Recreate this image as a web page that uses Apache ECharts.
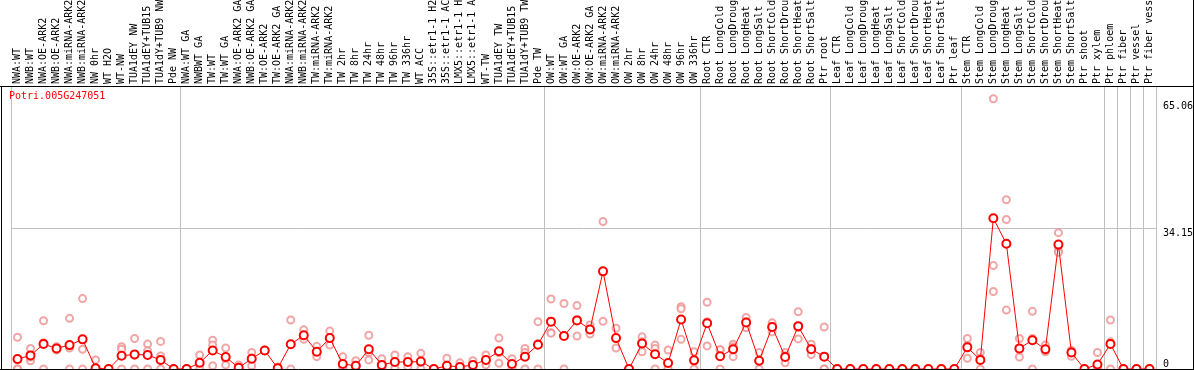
<!DOCTYPE html>
<html><head><meta charset="utf-8">
<script src="https://cdn.jsdelivr.net/npm/echarts@6/dist/echarts.min.js"></script>
<style>html,body{margin:0;padding:0;background:#fff;overflow:hidden}#c{width:1194px;height:370px}</style>
</head><body><div id="c"></div>
<script>
const geneName = 'Potri.005G247051';
const categories = [
 'NWA:WT','NWB:WT','NWA:OE-ARK2','NWB:OE-ARK2','NWA:miRNA-ARK2','NWB:miRNA-ARK2','NW 0hr','WT H2O','WT-NW','TUA1dEY NW','TUA1dEY+TUB15 NW','TUA1dY+TUB9 NW','Pde NW',
 'NWA:WT GA','NWBWT GA','TW:WT','TW:WT GA','NWA:OE-ARK2 GA','NWB:OE-ARK2 GA','TW:OE-ARK2','TW:OE-ARK2 GA','NWA:miRNA-ARK2 GA','NWB:miRNA-ARK2 GA','TW:miRNA-ARK2','TW:miRNA-ARK2 GA','TW 2hr','TW 8hr','TW 24hr','TW 48hr','TW 96hr','TW 336hr','WT ACC','35S::etr1-1 H2O','35S::etr1-1 ACC','LMX5::etr1-1 H2O','LMX5::etr1-1 ACC','WT-TW','TUA1dEY TW','TUA1dEY+TUB15 TW','TUA1dY+TUB9 TW','Pde TW',
 'OW:WT','OW:WT GA','OW:OE-ARK2','OW:OE-ARK2 GA','OW:miRNA-ARK2','OW:miRNA-ARK2 GA','OW 2hr','OW 8hr','OW 24hr','OW 48hr','OW 96hr','OW 336hr',
 'Root CTR','Root LongCold','Root LongDrought','Root LongHeat','Root LongSalt','Root ShortCold','Root ShortDrought','Root ShortHeat','Root ShortSalt','Ptr root',
 'Leaf CTR','Leaf LongCold','Leaf LongDrought','Leaf LongHeat','Leaf LongSalt','Leaf ShortCold','Leaf ShortDrought','Leaf ShortHeat','Leaf ShortSalt','Ptr leaf',
 'Stem CTR','Stem LongCold','Stem LongDrought','Stem LongHeat','Stem LongSalt','Stem ShortCold','Stem ShortDrought','Stem ShortHeat','Stem ShortSalt','Ptr shoot','Ptr xylem',
 'Ptr phloem','Ptr fiber','Ptr vessel','Ptr fiber vessel'
];
const groupStarts = [0,13,41,53,63,73,84,85,86,87];
const meanValues = [
 2.4,3.3,6.05,5.0,5.8,7.2,0.2,0,3.2,3.55,3.4,2.2,0,
 0,1.5,4.5,2.9,0.3,2.5,4.5,0.2,6.0,8.2,4.2,7.5,1.2,0.8,4.8,1.0,1.7,1.7,1.8,0,0.8,0.5,1.0,2.2,4.3,1.2,3.0,5.9,
 11.5,8.0,11.8,9.6,23.7,7.5,0,6.2,3.6,1.45,12.0,2.1,
 11.1,3.1,4.8,11.3,2.0,10.2,2.9,10.4,4.8,3.0,
 0,0,0,0,0,0,0,0,0,0,
 5.25,2.2,36.6,30.4,5.0,7.0,4.8,30.2,4.0,0,1.1,
 6.05,0,0,0
];
const rep1 = [
 7.7,5.0,11.7,5.4,12.3,17.1,2.2,0,5.4,7.4,6.05,6.7,0,
 0,3.4,7.0,5.1,1.0,4.0,4.6,0.5,11.9,9.5,5.5,9.2,3.0,2.0,8.2,2.5,3.4,3.0,3.8,0,2.6,1.5,2.0,3.4,7.5,2.5,5.0,11.5,
 17.0,15.9,15.4,10.7,35.8,9.9,0,7.8,5.8,4.6,15.1,4.2,
 16.2,4.6,6.0,12.5,4.0,11.2,4.0,13.9,6.0,10.2,
 0,0,0,0,0,0,0,0,0,0,
 7.4,4.0,65.6,41.1,7.4,14.0,5.8,33.1,4.4,0,4.0,
 11.9,0,0,0
];
const rep2 = [
 0,2.0,0,4.6,0,4.8,0,0,4.8,0,4.4,3.15,0,
 0,1.0,5.8,2.5,0,2.7,4.4,0,6.0,8.0,4.0,7.5,0.5,0.5,4.0,0.5,1.5,1.5,1.5,0,0,0,1.0,2.2,4.0,1.0,4.0,6.2,
 8.8,0,8.0,8.5,11.6,5.1,0,4.2,5.0,0,14.6,0,
 5.6,0,3.0,10.0,0,9.0,1.5,7.3,3.5,0,
 0,0,0,0,0,0,0,0,0,0,
 2.6,0,25.1,36.3,2.9,7.4,4.2,28.8,3.1,0,0,
 6.6,0,0,0
];
const rep3 = [
 0,2.9,6.4,5.0,5.1,0,0,0,0,3.3,0,0,0,
 0,0,0.8,1.0,0,0.8,4.5,0,0,7.2,3.0,5.8,0,0,2.2,0,0.2,0.6,0,0,0,0,0,1.0,1.4,0,0,0,
 8.7,8.1,12.0,9.6,23.7,7.5,0,6.6,0,0,7.2,2.1,
 11.5,4.7,5.4,11.4,2.0,10.4,3.2,10.0,4.9,0,
 0,0,0,0,0,0,0,0,0,0,
 5.7,2.6,18.8,14.3,4.7,0,4.4,28.3,4.5,0,0,
 0,0,0,0
];
const yLabelsUpper = [34.15, 65.06];
const yLabelsLower = [0];
const yGridValues = [34.15];
const yMax = 68.7;

const FONT = 'DejaVu Sans Mono';
const GRAY = '#c0c0c0';
const isGroupEdge = (i) => groupStarts.indexOf(i) >= 0;

const repStyle = {
  type: 'scatter', symbol: 'emptyCircle', symbolSize: 7,
  itemStyle: { color: '#ee9090', borderColor: '#ee9090', borderWidth: 1.4 },
  silent: true, z: 3
};

const chart = echarts.init(document.getElementById('c'), null, { renderer: 'canvas' });
chart.setOption({
  animation: false,
  backgroundColor: '#ffffff',
  title: {
    text: geneName, left: 9, top: 91, padding: 0,
    textStyle: { color: '#ff0000', fontSize: 10, fontWeight: 'normal', fontFamily: FONT }
  },
  grid: { left: 11, right: 38, top: 86, bottom: 1, containLabel: false, outerBoundsMode: 'none' },
  xAxis: {
    type: 'category', position: 'top', data: categories, boundaryGap: true,
    axisLine: { show: false },
    axisTick: { show: true, interval: (i) => isGroupEdge(i), length: 86, inside: false,
      lineStyle: { color: GRAY, width: 1 } },
    splitLine: { show: true, interval: (i) => isGroupEdge(i), lineStyle: { color: GRAY, width: 1 } },
    axisLabel: { interval: 0, rotate: 90, margin: 2, fontSize: 10, fontFamily: FONT, color: '#000', hideOverlap: false }
  },
  yAxis: [
    { type: 'value', position: 'right', min: 0, max: yMax,
      axisLine: { show: false },
      axisTick: { show: false, customValues: yGridValues },
      splitLine: { show: true, lineStyle: { color: GRAY, width: 1 } },
      axisLabel: { customValues: yLabelsUpper, margin: 7, align: 'left', verticalAlign: 'top',
        fontSize: 10, fontFamily: FONT, color: '#000', formatter: (v) => String(v) } },
    { type: 'value', position: 'right', min: 0, max: yMax,
      axisLine: { show: false }, axisTick: { show: false }, splitLine: { show: false },
      axisLabel: { customValues: yLabelsLower, margin: 7, align: 'left', verticalAlign: 'bottom',
        fontSize: 10, fontFamily: FONT, color: '#000', formatter: (v) => String(v) } }
  ],
  series: [
    Object.assign({ name: 'rep1', data: rep1 }, repStyle),
    Object.assign({ name: 'rep2', data: rep2 }, repStyle),
    Object.assign({ name: 'rep3', data: rep3 }, repStyle),
    { name: 'mean', type: 'line', data: meanValues, symbol: 'emptyCircle', symbolSize: 8,
      lineStyle: { color: '#ff0000', width: 1 },
      itemStyle: { color: '#ff0000', borderColor: '#e00000', borderWidth: 1.8 },
      z: 5, silent: true }
  ],
  graphic: [
    { type: 'line', shape: { x1: 0, y1: 86.5, x2: 1194, y2: 86.5 }, style: { stroke: '#000', lineWidth: 1 }, z: 100 },
    { type: 'line', shape: { x1: 0, y1: 369.5, x2: 1194, y2: 369.5 }, style: { stroke: '#000', lineWidth: 1 }, z: 100 },
    { type: 'line', shape: { x1: 1.5, y1: 86, x2: 1.5, y2: 370 }, style: { stroke: '#000', lineWidth: 1 }, z: 100 },
    { type: 'line', shape: { x1: 1193.5, y1: 0, x2: 1193.5, y2: 370 }, style: { stroke: '#000', lineWidth: 1 }, z: 100 }
  ]
});
</script></body></html>
